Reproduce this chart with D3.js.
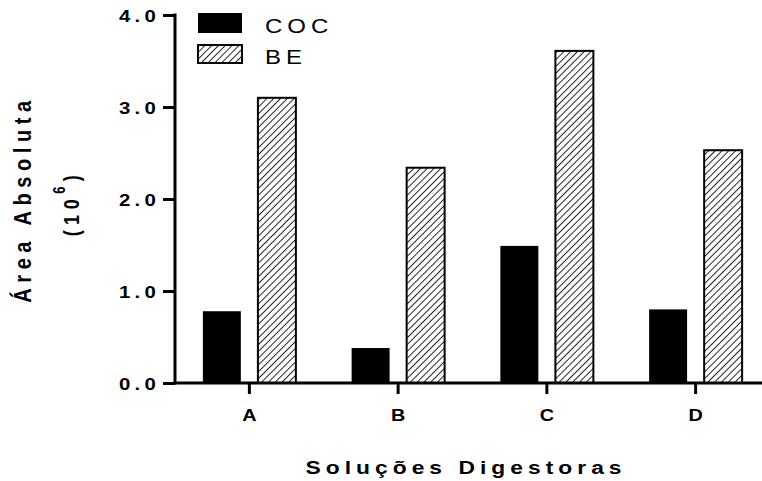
<!DOCTYPE html>
<html>
<head>
<meta charset="utf-8">
<script src="https://cdn.jsdelivr.net/npm/d3@7.9.0/dist/d3.min.js"></script>
<style>
  body { margin: 0; background: #fff; }
  svg { display: block; font-family: "Liberation Sans", Arial, sans-serif; }
</style>
</head>
<body>
<svg id="chart" width="762" height="481"></svg>
<script>
// data
let categories = ['A', 'B', 'C', 'D'];
let series = ['COC', 'BE'];
let cocValues = [0.78, 0.38, 1.49, 0.80];
let beValues = [3.10, 2.34, 3.61, 2.53];
let yTicks = [0, 1, 2, 3, 4];

let rows = categories.map((c, i) => ({ cat: c, COC: cocValues[i], BE: beValues[i] }));

let svg = d3.select('#chart');
let stretch = 1.2; // text in the original is a bit wide

// hatch pattern for BE
let defs = svg.append('defs');
defs.append('pattern')
    .attr('id', 'hatch')
    .attr('patternUnits', 'userSpaceOnUse')
    .attr('width', 4.8)
    .attr('height', 4.8)
    .attr('patternTransform', 'rotate(45)')
  .append('line')
    .attr('x1', 0).attr('y1', -1)
    .attr('x2', 0).attr('y2', 6)
    .attr('stroke', '#000')
    .attr('stroke-width', 1.7);

let x = d3.scaleBand().domain(categories).range([175, 770]).padding(0);
let xSub = d3.scaleBand().domain(series).range([-46.5, 46.5]).paddingInner(0.31);
let y = d3.scaleLinear().domain([0, 4]).range([383, 15]);

let fillFor = s => s === 'COC' ? '#000' : 'url(#hatch)';

// bars
let groups = svg.append('g').selectAll('g')
    .data(rows)
    .enter()
    .append('g')
    .attr('transform', d => `translate(${x(d.cat) + x.bandwidth() / 2},0)`);

groups.selectAll('rect')
    .data(d => series.map(s => ({ key: s, value: d[s] })))
    .enter()
    .append('rect')
    .attr('x', d => xSub(d.key))
    .attr('width', xSub.bandwidth())
    .attr('y', d => y(d.value))
    .attr('height', d => y(0) - y(d.value))
    .attr('fill', d => fillFor(d.key))
    .attr('stroke', '#000')
    .attr('stroke-width', d => d.key === 'COC' ? 0 : 2);

// y axis
let yAxis = svg.append('g')
    .attr('transform', 'translate(175,0)')
    .call(d3.axisLeft(y).tickValues(yTicks).tickFormat(d3.format('.1f')).tickSize(12).tickSizeOuter(0));
yAxis.select('.domain').remove();
yAxis.append('line')
    .attr('x1', 0).attr('x2', 0)
    .attr('y1', y(4) - 1.5).attr('y2', y(0) + 1.5)
    .attr('stroke', '#000').attr('stroke-width', 3);
yAxis.selectAll('.tick line').attr('stroke-width', 3);
yAxis.selectAll('.tick text')
    .attr('font-family', '"Liberation Sans", Arial, sans-serif')
    .attr('font-size', 17)
    .attr('font-weight', 'bold')
    .attr('letter-spacing', '3.5px')
    .attr('fill', '#000')
    .attr('x', 0)
    .attr('dy', '0.36em')
    .attr('transform', `translate(-15,0) scale(${stretch},1)`);

// x axis
let xAxis = svg.append('g')
    .attr('transform', `translate(0,${y(0)})`)
    .call(d3.axisBottom(x).tickSize(11).tickSizeOuter(0));
xAxis.select('.domain').remove();
xAxis.append('line')
    .attr('x1', 173.5).attr('x2', 762)
    .attr('y1', 0).attr('y2', 0)
    .attr('stroke', '#000').attr('stroke-width', 3);
xAxis.selectAll('.tick line').attr('stroke-width', 3);
xAxis.selectAll('.tick text')
    .attr('font-family', '"Liberation Sans", Arial, sans-serif')
    .attr('font-size', 16.5)
    .attr('font-weight', 'bold')
    .attr('fill', '#000')
    .attr('y', 0)
    .attr('dy', 0)
    .attr('transform', `translate(0,38) scale(${stretch},1)`);

// axis titles
svg.append('text')
    .attr('transform', `translate(466,474) scale(${stretch},1)`)
    .attr('text-anchor', 'middle')
    .attr('font-size', 19)
    .attr('font-weight', 'bold')
    .attr('letter-spacing', '4.2px')
    .text('Soluções Digestoras');

svg.append('text')
    .attr('transform', `translate(31,199) scale(${stretch},1) rotate(-90)`)
    .attr('text-anchor', 'middle')
    .attr('font-size', 20)
    .attr('font-weight', 'bold')
    .attr('letter-spacing', '5.6px')
    .text('Área Absoluta');

let sub = svg.append('text')
    .attr('transform', `translate(79,203) scale(${stretch},1) rotate(-90)`)
    .attr('text-anchor', 'middle')
    .attr('font-size', 18)
    .attr('font-weight', 'bold')
    .attr('letter-spacing', '5.5px');
sub.append('tspan').text('(10');
sub.append('tspan').attr('font-size', 13).attr('dy', -12).text('6');
sub.append('tspan').attr('dy', 12).text(')');

// legend
let legend = svg.append('g').selectAll('g')
    .data(series)
    .enter()
    .append('g')
    .attr('transform', (d, i) => `translate(198,${13 + i * 32})`);
legend.append('rect')
    .attr('width', 44)
    .attr('height', d => d === 'COC' ? 20 : 18)
    .attr('fill', d => fillFor(d))
    .attr('stroke', '#000')
    .attr('stroke-width', d => d === 'COC' ? 0 : 2);
legend.append('text')
    .attr('transform', (d, i) => `translate(67,${i === 0 ? 20 : 19}) scale(${stretch},1)`)
    .attr('font-size', 20)
    .attr('letter-spacing', '4.2px')
    .text(d => d);
</script>
</body>
</html>
